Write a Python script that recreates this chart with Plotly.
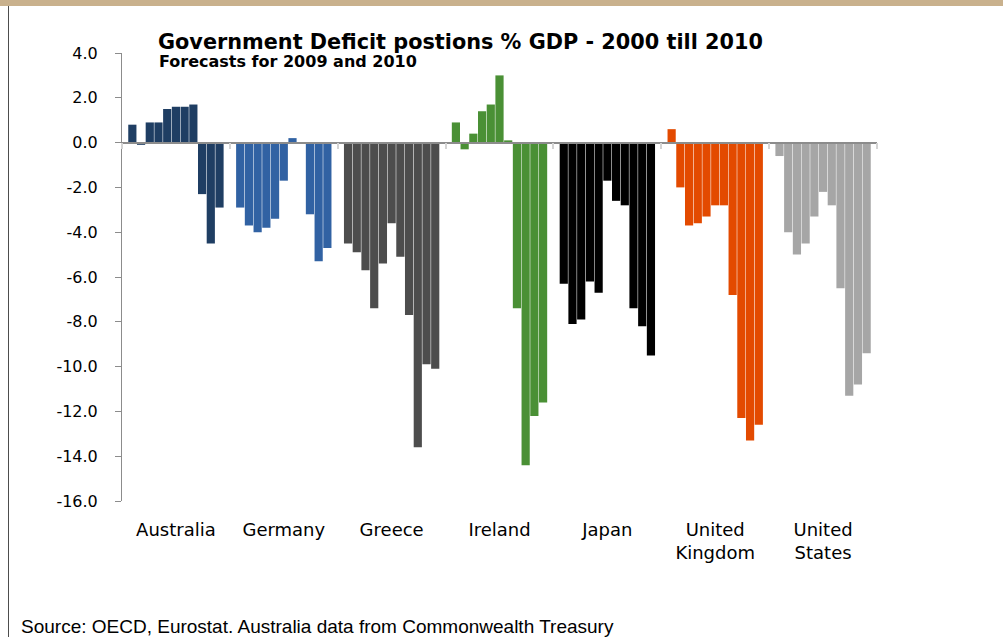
import plotly.graph_objects as go

countries = ["Australia", "Germany", "Greece", "Ireland", "Japan",
             "United<br>Kingdom", "United<br>States"]
years = ["2000", "2001", "2002", "2003", "2004", "2005",
         "2006", "2007", "2008", "2009", "2010"]

australia = [0.8, -0.1, 0.9, 0.9, 1.5, 1.6, 1.6, 1.7, -2.3, -4.5, -2.9]
germany = [-2.9, -3.7, -4.0, -3.8, -3.4, -1.7, 0.2, 0.0, -3.2, -5.3, -4.7]
greece = [-4.5, -4.9, -5.7, -7.4, -5.4, -3.6, -5.1, -7.7, -13.6, -9.9, -10.1]
ireland = [0.9, -0.3, 0.4, 1.4, 1.7, 3.0, 0.1, -7.4, -14.4, -12.2, -11.6]
japan = [-6.3, -8.1, -7.9, -6.2, -6.7, -1.7, -2.6, -2.8, -7.4, -8.2, -9.5]
uk = [0.6, -2.0, -3.7, -3.6, -3.3, -2.8, -2.8, -6.8, -12.3, -13.3, -12.6]
us = [-0.6, -4.0, -5.0, -4.5, -3.3, -2.2, -2.8, -6.5, -11.3, -10.8, -9.4]

series = [australia, germany, greece, ireland, japan, uk, us]
colors = ["#1F3E63", "#3162A3", "#4D4D4D", "#4A9035", "#000000",
          "#E34A00", "#A6A6A6"]

yticks = [4, 2, 0, -2, -4, -6, -8, -10, -12, -14, -16]
yticklabels = ["4.0", "2.0", "0.0", "-2.0", "-4.0", "-6.0", "-8.0",
               "-10.0", "-12.0", "-14.0", "-16.0"]

fig = go.Figure()
for i, yr in enumerate(years):
    fig.add_trace(go.Bar(
        x=countries,
        y=[s[i] for s in series],
        name=yr,
        marker=dict(color=colors, line=dict(width=0)),
        showlegend=False,
    ))

# helper trace for the zero-line axis with category boundary ticks
fig.add_trace(go.Scatter(x=countries, y=[None] * len(countries), xaxis="x2",
                         showlegend=False, hoverinfo="skip", mode="markers"))

W, H = 1003, 637
L, R, T, B = 122, 126, 53, 136
pw = W - L - R
ph = H - T - B


def px(x):
    return (x - L) / pw


def py(y):
    return (H - B - y) / ph


fig.update_layout(
    width=W, height=H,
    margin=dict(l=L, r=R, t=T, b=B, pad=0),
    paper_bgcolor="white", plot_bgcolor="white",
    barmode="group", bargap=0.111, bargroupgap=0.06,
    font=dict(family="DejaVu Sans", color="#000000"),
    xaxis=dict(
        type="category", showline=False, ticks="", showgrid=False,
        tickfont=dict(family="DejaVu Sans", size=18, color="#000000"),
        ticklabelstandoff=16, zeroline=False,
    ),
    xaxis2=dict(
        type="category", overlaying="x", matches="x", anchor="free",
        position=0.8, showline=True, linecolor="#8C8C8C", linewidth=1.5,
        ticks="outside", tickson="boundaries", ticklen=6, tickwidth=2,
        tickcolor="#D4D4D4", showticklabels=False, showgrid=False,
        zeroline=False,
    ),
    yaxis=dict(
        range=[-16, 4], tickvals=yticks, ticktext=yticklabels,
        showline=True, linecolor="#8C8C8C", linewidth=1,
        ticks="outside", ticklen=6, tickcolor="#8C8C8C", tickwidth=1,
        showgrid=False, zeroline=False,
        tickfont=dict(family="DejaVu Sans", size=16, color="#000000"),
        ticklabelstandoff=14,
    ),
    shapes=[
        dict(type="rect", xref="paper", yref="paper",
             x0=px(0), x1=px(W), y0=py(6), y1=py(0),
             fillcolor="#C9B18D", line=dict(width=0), layer="above"),
        dict(type="line", xref="paper", yref="paper",
             x0=px(8.5), x1=px(8.5), y0=py(6), y1=py(H),
             line=dict(color="#4D4D4D", width=1)),
    ],
    annotations=[
        dict(text="<b>Government Deficit postions % GDP - 2000 till 2010</b>",
             xref="paper", yref="paper", x=px(156), y=py(42),
             xanchor="left", yanchor="middle", showarrow=False,
             font=dict(family="DejaVu Sans", size=20.8, color="#000000")),
        dict(text="<b>Forecasts for 2009 and 2010</b>",
             xref="paper", yref="paper", x=px(157), y=py(62),
             xanchor="left", yanchor="middle", showarrow=False,
             font=dict(family="DejaVu Sans", size=16, color="#000000")),
        dict(text="Source: OECD, Eurostat. Australia data from Commonwealth Treasury",
             xref="paper", yref="paper", x=px(19), y=py(626),
             xanchor="left", yanchor="middle", showarrow=False,
             font=dict(family="Liberation Sans", size=19, color="#000000")),
    ],
)

fig.write_html(
    "out.html",
    config={"displayModeBar": False},
    post_script="document.body.style.margin='0';document.body.style.padding='0';",
)
